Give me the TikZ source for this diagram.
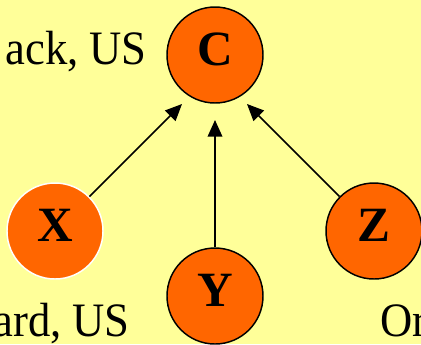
\documentclass[tikz,border=0pt]{standalone}
\usepackage{fontspec}
\setmainfont{Liberation Serif}
\newfontfamily\capfont[FakeStretch=0.93]{Liberation Serif}
\usetikzlibrary{arrows.meta}
\definecolor{paper}{HTML}{FFFF99}
\definecolor{ball}{HTML}{FF6600}
\begin{document}
\begin{tikzpicture}[x=0.75pt,y=-0.75pt,
  var/.style={circle,fill=ball,draw=black,line width=1.1pt,minimum size=72pt,inner sep=0pt,
    font=\fontsize{37pt}{37pt}\selectfont\bfseries,text height=25pt,text depth=10pt},
  caption/.style={font=\capfont\fontsize{36pt}{36pt}\selectfont,inner sep=0pt},
  link/.style={line width=1.1pt,-{Triangle[length=12.5pt,width=11pt]}}]
\useasboundingbox (0,0) rectangle (421,344);
\clip (0,0) rectangle (421,344);
\fill[paper] (0,0) rectangle (421,344);
% nodes
\node[var] (C) at (215,55) {C};
\node[var,draw=white] (X) at (55,231) {X};
\node[var] (Y) at (215,296) {Y};
\node[var] (Z) at (374,231) {Z};
% captions
\node[caption,anchor=base east] (tc) at (147,64) {ack, US};
\node[caption,anchor=base east] (tx) at (130,336) {ard, US};
\node[caption,anchor=base west] (tz) at (380,336) {Or};
% arrow tips below C
\coordinate (tipL) at (182,104);
\coordinate (tipM) at (215,120);
\coordinate (tipR) at (247,104);
\draw[link] (X.45) -- (tipL);
\draw[link] (Y.north) -- (tipM);
\draw[link] (Z.135) -- (tipR);
\end{tikzpicture}
\end{document}
